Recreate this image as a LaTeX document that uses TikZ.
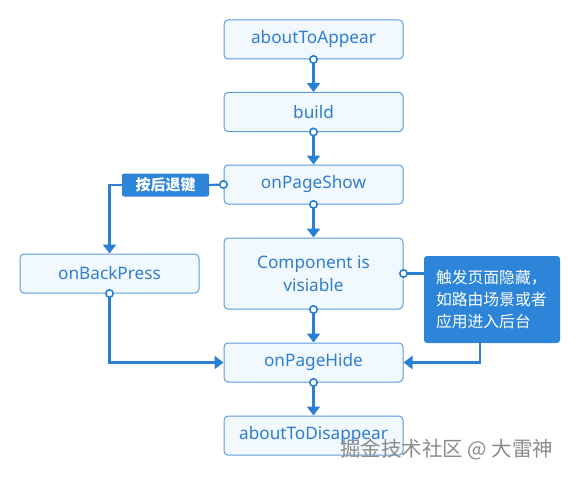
\documentclass[tikz,border=0pt]{standalone}
\usepackage{fontspec}
\setmainfont{Noto Sans}
\newfontfamily\cjk{Noto Sans CJK SC}
\usetikzlibrary{arrows.meta}

\definecolor{boxline}{HTML}{5C9DDC}
\definecolor{boxfill}{HTML}{F1F8FE}
\definecolor{boxtext}{HTML}{2F7ECF}
\definecolor{flow}{HTML}{2A80D5}
\definecolor{notefill}{HTML}{2C85D8}

\tikzset{
  stage/.style={draw=boxline, fill=boxfill, line width=1pt, rounded corners=4pt,
    minimum width=179pt, minimum height=39pt, text=boxtext, align=center,
    font=\fontsize{17.2}{23}\selectfont},
  tag/.style={fill=notefill, rounded corners=2pt, text=white, inner sep=0pt,
    minimum width=87pt, minimum height=23pt, font=\cjk\bfseries\fontsize{15}{16}\selectfont},
  note/.style={fill=notefill, rounded corners=3pt, text=white, align=left,
    minimum width=136pt, minimum height=87pt, inner sep=0pt,
    font=\cjk\fontsize{15.8}{22}\selectfont},
  flowline/.style={draw=flow, line width=2.2pt},
  link/.style={flowline, shorten <=-4.5pt,
    {Circle[fill=white, length=9pt, line width=1.6pt]}-{Triangle[length=9pt, width=13pt]}},
  tap/.style={flowline, shorten <=-4.5pt,
    {Circle[fill=white, length=9pt, line width=1.6pt]}-},
  push/.style={flowline, -{Triangle[length=9pt, width=13pt]}}
}

\begin{document}
\begin{tikzpicture}[x=1pt, y=-1pt]
  \useasboundingbox (0,0) rectangle (580,476);
  % main chain of the page life cycle
  \node[stage] (appear) at (313.5,39.5) {aboutToAppear};
  \node[stage] (build) at (313.5,112) {build};
  \node[stage] (show) at (313.5,184.5) {onPageShow};
  \node[stage, minimum height=71pt] (comp) at (313.5,273.5) {Component is\\visiable};
  \node[stage] (hide) at (313.5,362.5) {onPageHide};
  \node[stage] (disappear) at (313.5,435.5) {aboutToDisappear};
  % side branch
  \node[stage] (back) at (109.5,273.5) {onBackPress};
  \node[tag] (key) at (165.5,185) {按后退键};
  \node[note, text width=112pt] (hidenote) at (492,299.5) {触发页面隐藏，\\如路由场景或者\\应用进入后台};

  % straight links
  \draw[link] (appear.south) -- (build.north);
  \draw[link] (build.south) -- (show.north);
  \draw[link] (show.south) -- (comp.north);
  \draw[link] (comp.south) -- (hide.north);
  \draw[link] (hide.south) -- (disappear.north);

  % back key path
  \draw[tap] (show.west) -- (key.east);
  \draw[push] (key.west) -| (back.north);
  \draw[link] (back.south) |- (hide.west);

  % hidden page path
  \draw[tap] (comp.east) -- (comp.east -| hidenote.west);
  \draw[push] ([xshift=-12pt]hidenote.south) |- (hide.east);

  % watermark
  \node[text=black!45, font=\cjk\fontsize{20.5}{22}\selectfont, anchor=west, inner sep=0pt]
    (mark) at (340,450) {掘金技术社区 @ 大雷神};
\end{tikzpicture}
\end{document}
